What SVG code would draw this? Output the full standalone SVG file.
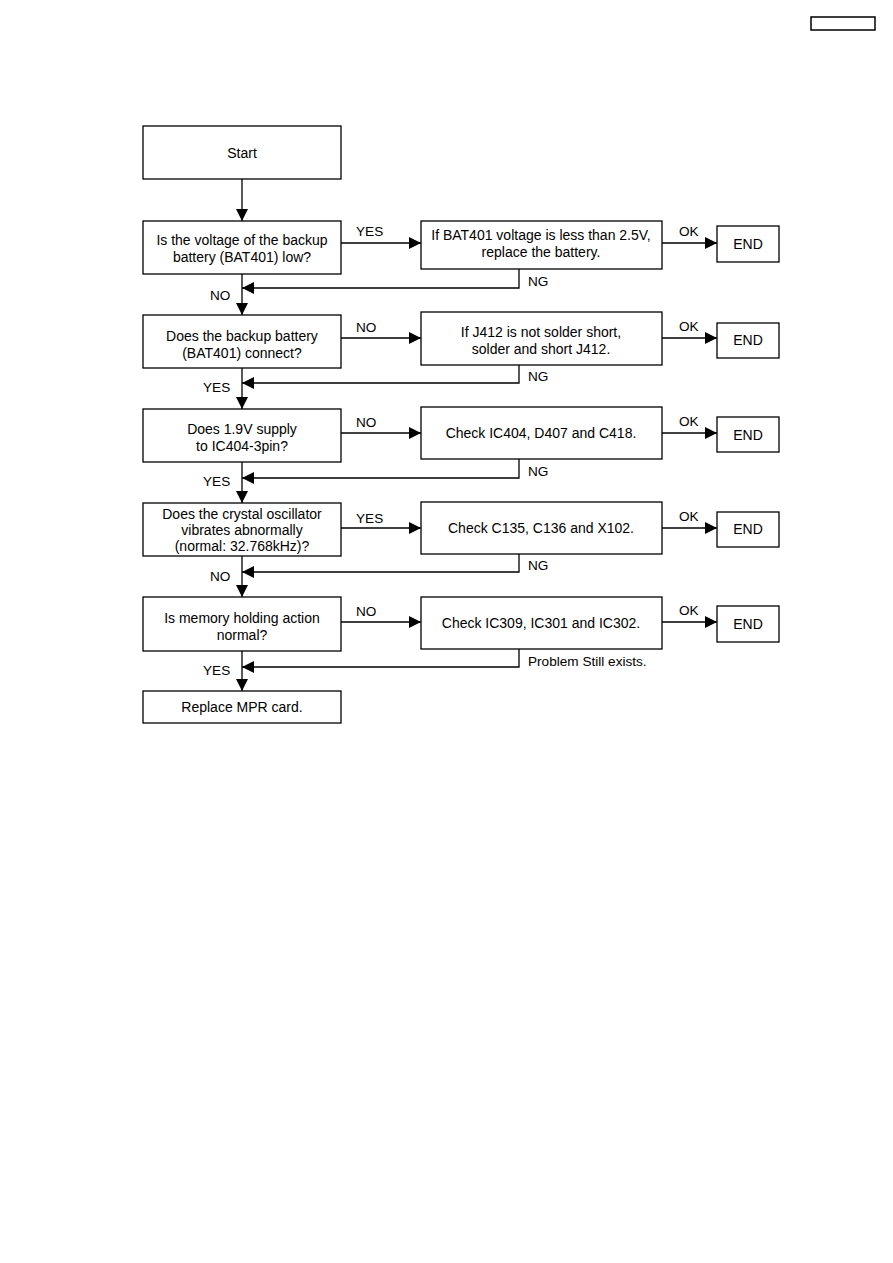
<svg xmlns="http://www.w3.org/2000/svg" width="893" height="1263" viewBox="0 0 893 1263">
<defs>
<style>
.box{fill:#fff;stroke:#000;stroke-width:1.3}
.ln{fill:none;stroke:#000;stroke-width:1.3}
text{font-family:"Liberation Sans",Arial,sans-serif;font-size:13.6px;fill:#000}
.c{text-anchor:middle;font-size:14px}
</style>
<marker id="ah" viewBox="0 0 12 12" refX="12" refY="6" markerWidth="12" markerHeight="12" markerUnits="userSpaceOnUse" orient="auto">
<path d="M0,0 L12,6 L0,12 Z" fill="#000"/>
</marker>
</defs>
<rect width="893" height="1263" fill="#fff"/>
<rect x="811" y="17" width="64" height="13" fill="none" stroke="#000" stroke-width="1.5"/>

<g id="connectors">
<path class="ln" d="M242,179 V221" marker-end="url(#ah)"/>
<path class="ln" d="M341,243 H421" marker-end="url(#ah)"/>
<path class="ln" d="M662,243 H717" marker-end="url(#ah)"/>
<path class="ln" d="M519,269 V288 H242" marker-end="url(#ah)"/>
<path class="ln" d="M242,274 V315" marker-end="url(#ah)"/>
<path class="ln" d="M341,338 H421" marker-end="url(#ah)"/>
<path class="ln" d="M662,338 H717" marker-end="url(#ah)"/>
<path class="ln" d="M519,365 V383 H242" marker-end="url(#ah)"/>
<path class="ln" d="M242,368 V409" marker-end="url(#ah)"/>
<path class="ln" d="M341,433 H421" marker-end="url(#ah)"/>
<path class="ln" d="M662,433 H717" marker-end="url(#ah)"/>
<path class="ln" d="M519,459 V478 H242" marker-end="url(#ah)"/>
<path class="ln" d="M242,462 V503" marker-end="url(#ah)"/>
<path class="ln" d="M341,528 H421" marker-end="url(#ah)"/>
<path class="ln" d="M662,528 H717" marker-end="url(#ah)"/>
<path class="ln" d="M519,554 V572 H242" marker-end="url(#ah)"/>
<path class="ln" d="M242,556 V597" marker-end="url(#ah)"/>
<path class="ln" d="M341,622 H421" marker-end="url(#ah)"/>
<path class="ln" d="M662,622 H717" marker-end="url(#ah)"/>
<path class="ln" d="M519,649 V667 H242" marker-end="url(#ah)"/>
<path class="ln" d="M242,651 V691" marker-end="url(#ah)"/>
<text x="356" y="236">YES</text>
<text x="679" y="236">OK</text>
<text x="528" y="286">NG</text>
<text x="210" y="300">NO</text>
<text x="356" y="332">NO</text>
<text x="679" y="331">OK</text>
<text x="528" y="381">NG</text>
<text x="203" y="392">YES</text>
<text x="356" y="427">NO</text>
<text x="679" y="426">OK</text>
<text x="528" y="476">NG</text>
<text x="203" y="486">YES</text>
<text x="356" y="523">YES</text>
<text x="679" y="521">OK</text>
<text x="528" y="570">NG</text>
<text x="210" y="581">NO</text>
<text x="356" y="616">NO</text>
<text x="679" y="615">OK</text>
<text x="528" y="666">Problem Still exists.</text>
<text x="203" y="675">YES</text>
</g>

<g id="start"><rect class="box" x="143" y="126" width="198" height="53"/><text class="c" x="242" y="158">Start</text></g>

<g id="q1"><rect class="box" x="143" y="221" width="198" height="53"/><text class="c" x="242" y="245">Is the voltage of the backup</text><text class="c" x="242" y="262">battery (BAT401) low?</text></g>
<g id="r1"><rect class="box" x="421" y="221" width="241" height="48"/><text class="c" x="541" y="240">If BAT401 voltage is less than 2.5V,</text><text class="c" x="541" y="257">replace the battery.</text></g>
<g id="end1"><rect class="box" x="717" y="226" width="62" height="36"/><text class="c" x="748" y="249">END</text></g>

<g id="q2"><rect class="box" x="143" y="315" width="198" height="53"/><text class="c" x="242" y="341">Does the backup battery</text><text class="c" x="242" y="358">(BAT401) connect?</text></g>
<g id="r2"><rect class="box" x="421" y="312" width="241" height="53"/><text class="c" x="541" y="337">If J412 is not solder short,</text><text class="c" x="541" y="354">solder and short J412.</text></g>
<g id="end2"><rect class="box" x="717" y="323" width="62" height="35"/><text class="c" x="748" y="345">END</text></g>

<g id="q3"><rect class="box" x="143" y="409" width="198" height="53"/><text class="c" x="242" y="434">Does 1.9V supply</text><text class="c" x="242" y="451">to IC404-3pin?</text></g>
<g id="r3"><rect class="box" x="421" y="407" width="241" height="52"/><text class="c" x="541" y="438">Check IC404, D407 and C418.</text></g>
<g id="end3"><rect class="box" x="717" y="417" width="62" height="35"/><text class="c" x="748" y="440">END</text></g>

<g id="q4"><rect class="box" x="143" y="503" width="198" height="53"/><text class="c" x="242" y="519">Does the crystal oscillator</text><text class="c" x="242" y="535">vibrates abnormally</text><text class="c" x="242" y="551">(normal: 32.768kHz)?</text></g>
<g id="r4"><rect class="box" x="421" y="502" width="241" height="52"/><text class="c" x="541" y="533">Check C135, C136 and X102.</text></g>
<g id="end4"><rect class="box" x="717" y="512" width="62" height="35"/><text class="c" x="748" y="534">END</text></g>

<g id="q5"><rect class="box" x="143" y="597" width="198" height="54"/><text class="c" x="242" y="623">Is memory holding action</text><text class="c" x="242" y="640">normal?</text></g>
<g id="r5"><rect class="box" x="421" y="597" width="241" height="52"/><text class="c" x="541" y="628">Check IC309, IC301 and IC302.</text></g>
<g id="end5"><rect class="box" x="717" y="606" width="62" height="36"/><text class="c" x="748" y="629">END</text></g>

<g id="final"><rect class="box" x="143" y="691" width="198" height="32"/><text class="c" x="242" y="712">Replace MPR card.</text></g>
</svg>
